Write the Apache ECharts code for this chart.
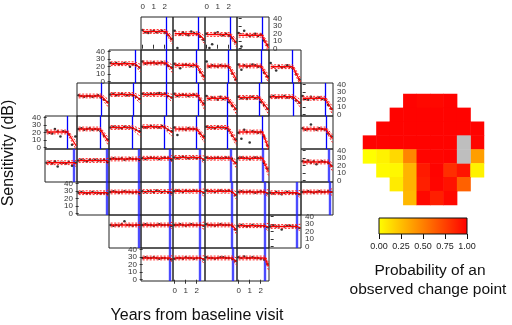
<!DOCTYPE html>
<html lang="en">
<head>
<meta charset="UTF-8">
<title>Change point</title>
<script src="https://cdn.jsdelivr.net/npm/echarts@6.0.0/dist/echarts.min.js"></script>
<style>
    html, body { margin: 0; padding: 0; background: #fff; }
    #chart { width: 512px; height: 325px; }
</style>
</head>
<body>
<div id="chart"></div>
<script type="text/javascript">
// visit times in years from baseline
var visits = [0, 0.25, 0.5, 0.75, 1.0, 1.25, 1.5, 1.75, 2.0, 2.3, 2.6];

// panel positions in the field (row, column)
var rowOf = [0,0,0,0, 1,1,1,1,1,1, 2,2,2,2,2,2,2,2, 3,3,3,3,3,3,3,3,
             4,4,4,4,4,4,4,4, 5,5,5,5,5,5,5,5, 6,6,6,6,6,6, 7,7,7,7];
var colOf = [3,4,5,6, 2,3,4,5,6,7, 1,2,3,4,5,6,7,8, 0,1,2,3,4,5,6,8,
             0,1,2,3,4,5,6,8, 1,2,3,4,5,6,7,8, 2,3,4,5,6,7, 3,4,5,6];

// fitted level before change, change point (years), fitted value at the end
var base = [23,20,19,18, 24,25,22,21,21,20, 25,27,27,26,22,23,24,22, 21,25,27,28,25,27,21,25,
            24,27,29,30,31,30,30,25, 28,29,29.5,30,30,29,28,29, 29,29,29,29,28,27, 29,29,29,29];
var changePt = [2.12,2.15,2.12,2.12, 2.2,2.12,2.0,2.0,2.03,2.0, 2.05,2.06,2.1,2.1,1.9,1.85,2.06,2.03,
                1.9,1.94,1.97,1.94,2.0,1.9,2.14,2.1, 2.5,2.55,2.52,2.49,2.3,2.2,2.14,2.33,
                2.55,2.52,2.49,2.3,2.27,2.4,2.37,2.48, 2.52,2.49,2.3,2.3,2.34,2.4, 2.49,2.3,2.33,2.4];
var endVal = [11,12,7,1, 18,17,5,3,4,0, 15,20,22,12,6,6,15,6, 2,8,20,20,12,8,0,12,
              22,25,28,29,28,22,12,18, 27,28,28,28,24,27,26,29, 29,28,28,22,26,25, 27,27,24,18];
var endTime = 2.7;
var ciHalf = [2.5, 5];

// observed sensitivities (dB) at each visit, one row per panel
var sens = [
    [25,22,21,23,24,22,23,24,21,18,13],
    [24,1,19,22,20,18,23,21,20,16,12],
    [20,1,6,21,22,19,18,20,17,14,9],
    [21,3,24,19,17,18,20,17,19,11,5],
    [25,24,25,23,24,25,24,20,23,22,19],
    [27,24,25,25,26,24,25,26,24,21,19],
    [24,22,18,22,23,22,21,22,20,13,8],
    [27,20,22,21,20,22,21,21,19,11,3],
    [23,16,22,20,21,23,22,20,20,12,7],
    [25,20,15,21,19,20,22,20,18,10,3],
    [26,25,24,25,25,24,25,26,23,20,17],
    [27,28,26,27,28,27,26,27,26,24,21],
    [28,27,27,28,27,28,29,27,28,25,23],
    [28,25,26,27,26,25,26,27,25,20,15],
    [25,21,23,22,20,24,21,22,17,12,8],
    [24,22,23,21,23,24,22,23,17,13,8],
    [24,25,23,24,24,25,23,24,22,19,16],
    [25,21,20,24,21,22,23,21,20,13,8],
    [23,20,19,25,22,15,22,21,18,4,15],
    [25,26,24,25,26,24,25,24,22,16,11],
    [27,28,27,27,26,28,27,27,26,24,22],
    [28,27,28,29,28,28,27,29,27,24,22],
    [27,17,25,25,24,26,25,25,24,19,15],
    [28,27,27,26,28,27,27,26,23,16,11],
    [20,12,24,21,7,22,21,20,21,15,3],
    [26,24,25,31,25,24,26,25,24,19,15],
    [24,25,23,26,19,24,24,23,25,20,24],
    [27,28,27,26,28,27,28,27,27,28,25],
    [29,30,29,29,30,28,29,30,29,29,28],
    [30,29,30,31,30,30,29,30,31,30,28],
    [31,30,31,32,31,30,31,31,30,31,28],
    [31,30,30,30,31,30,30,31,30,29,24],
    [30,31,30,30,29,30,31,30,30,24,16],
    [26,25,27,24,26,22,25,26,25,24,20],
    [28,29,28,27,28,29,28,28,27,28,27],
    [29,30,29,28,29,30,29,29,28,29,28],
    [30,29,30,30,29,31,30,29,30,29,28],
    [30,31,30,29,31,30,30,31,30,30,28],
    [31,30,30,29,30,31,30,30,31,29,25],
    [29,30,29,29,30,29,28,29,30,29,27],
    [28,27,29,28,26,28,29,28,28,27,26],
    [29,29,30,29,28,29,30,29,29,30,29],
    [29,28,29,28,30,34,29,29,28,29,29],
    [29,30,29,29,28,29,30,29,29,29,28],
    [29,29,30,29,28,29,30,29,29,29,28],
    [30,29,29,28,29,30,29,29,29,28,23],
    [28,29,28,27,28,29,28,28,28,28,26],
    [27,28,27,27,23,27,28,28,27,27,25],
    [29,30,29,29,30,29,28,29,29,28,27],
    [28,29,29,28,30,29,29,28,29,29,27],
    [30,29,29,28,29,30,30,29,29,28,25],
    [30,29,31,29,29,30,29,29,28,27,21]
];

// posterior probability of an observed change point, same panel order
var prob = [0.99,0.97,0.97,0.99, 0.99,0.99,0.99,0.99,0.99,0.99,
            0.99,0.99,0.99,0.99,0.99,0.99,0.99,0.99, 0.99,0.99,0.99,0.99,0.99,0.99,0.99,0.98,
            0.0,0.05,0.15,0.48,0.98,0.98,0.99,0.38, 0.02,0.03,0.3,0.9,0.99,0.82,0.92,0.05,
            0.08,0.3,0.88,0.98,0.93,0.62, 0.28,0.97,0.88,0.97];
var blindRow = [3, 4];
var blindCol = [7, 7];

var xTicks = [0, 1, 2];
var yTicks = [0, 10, 20, 30, 40];
// labels are split over two axes so that none gets dropped as "overlapping"
var yLabelsA = [0, 20, 40];
var yLabelsB = [10, 30];
var barTicks = [0, 0.25, 0.5, 0.75, 1];

// which panels carry the axis labels
var xTop = ['0-3', '0-5'];
var xBottom = ['7-4', '7-6'];
var yLeft = ['1-2', '3-0', '5-1', '7-3'];
var yRight = ['0-6', '2-8', '4-8', '6-7'];

var FONT = '"Liberation Sans", Arial, sans-serif';
var colX0 = 45, colW = 32, rowY0 = 17, rowH = 33;

var grids = [], xAxes = [], yAxes = [], extraY = [], series = [];

function yLabelAxis(gridIdx, pos, labels, ticks) {
    return {
        type: 'value', gridIndex: gridIdx, min: -1.7, max: 42.3,
        show: true, position: pos, offset: 0,
        axisLine: {show: false}, splitLine: {show: false},
        axisTick: {show: ticks, length: 3, customValues: yTicks, lineStyle: {color: '#333'}},
        axisLabel: {customValues: labels, fontSize: 8, margin: 4, color: '#333',
            fontFamily: FONT, showMinLabel: true, showMaxLabel: true}
    };
}

for (var i = 0; i < rowOf.length; i++) {
    var r = rowOf[i], c = colOf[i], key = r + '-' + c;
    grids.push({
        left: colX0 + c * colW, top: rowY0 + r * rowH, width: colW, height: rowH,
        show: true, borderColor: '#222', borderWidth: 1, backgroundColor: 'transparent'
    });
    var xPos = xTop.indexOf(key) >= 0 ? 'top' : (xBottom.indexOf(key) >= 0 ? 'bottom' : null);
    xAxes.push({
        type: 'value', gridIndex: i, min: -0.15, max: 2.75,
        show: !!xPos, position: xPos || 'bottom',
        axisLine: {show: false}, splitLine: {show: false},
        axisTick: {show: true, length: 4, customValues: xTicks, lineStyle: {color: '#333'}},
        axisLabel: {customValues: xTicks, fontSize: 8, margin: 6, color: '#333', fontFamily: FONT,
            showMinLabel: true, showMaxLabel: true}
    });
    var yPos = yLeft.indexOf(key) >= 0 ? 'left' : (yRight.indexOf(key) >= 0 ? 'right' : null);
    if (yPos) {
        yAxes.push(yLabelAxis(i, yPos, yLabelsA, true));
        extraY.push(yLabelAxis(i, yPos, yLabelsB, false));
    } else {
        yAxes.push({type: 'value', gridIndex: i, min: -1.7, max: 42.3, show: false});
    }

    var b = base[i], cpt = changePt[i], e = endVal[i];
    var lower = r >= 4;
    series.push({
        type: 'line', xAxisIndex: i, yAxisIndex: i, symbol: 'none', silent: true,
        data: [[0, b + ciHalf[0]], [cpt, b + ciHalf[0]], [endTime, e + ciHalf[1]]],
        lineStyle: {color: '#ff2020', width: 1, type: [2, 1.5]}
    });
    series.push({
        type: 'line', xAxisIndex: i, yAxisIndex: i, symbol: 'none', silent: true,
        data: [[0, b - ciHalf[0]], [cpt, b - ciHalf[0]], [endTime, e - ciHalf[1]]],
        lineStyle: {color: '#ff2020', width: 1, type: [2, 1.5]}
    });
    series.push({
        type: 'line', xAxisIndex: i, yAxisIndex: i, symbol: 'none', silent: true,
        data: [[0, b], [cpt, b], [endTime, e]],
        lineStyle: {color: '#ff0000', width: 1.3},
        markLine: {
            silent: true, symbol: 'none', label: {show: false}, z: 1,
            lineStyle: {color: lower ? 'rgba(30,30,255,0.8)' : '#0000ff', width: lower ? 2.4 : 1.3, type: 'solid'},
            data: [{xAxis: cpt}]
        }
    });
    series.push({
        type: 'scatter', xAxisIndex: i, yAxisIndex: i, silent: true,
        symbolSize: 2.6, itemStyle: {color: '#000'},
        data: visits.map(function (t, k) { return [t, sens[i][k]]; })
    });
}

// heat map of probabilities
var hIdx = grids.length;
grids.push({left: 363, top: 94, width: 121, height: 111, show: false});
xAxes.push({type: 'category', gridIndex: hIdx, data: ['0','1','2','3','4','5','6','7','8'], show: false});
yAxes.push({type: 'category', gridIndex: hIdx, data: ['0','1','2','3','4','5','6','7'], inverse: true, show: false});
var heatData = prob.map(function (p, k) { return [colOf[k], rowOf[k], p]; });
var heatSeriesIndex = series.length;
series.push({
    type: 'heatmap', xAxisIndex: hIdx, yAxisIndex: hIdx, silent: true,
    data: heatData, itemStyle: {borderWidth: 0}
});
series.push({
    type: 'heatmap', xAxisIndex: hIdx, yAxisIndex: hIdx, silent: true,
    data: blindRow.map(function (rr, k) { return [blindCol[k], rr, 0]; }),
    itemStyle: {color: '#bebebe'}
});

// colour bar
var bIdx = grids.length;
grids.push({
    left: 379, top: 218, width: 88, height: 16, show: true, borderColor: '#111', borderWidth: 1,
    backgroundColor: {
        type: 'linear', x: 0, y: 0, x2: 1, y2: 0,
        colorStops: [{offset: 0, color: '#ffff00'}, {offset: 0.5, color: '#ff8000'}, {offset: 1, color: '#ff0000'}]
    }
});
xAxes.push({
    type: 'value', gridIndex: bIdx, min: 0, max: 1, position: 'bottom',
    axisLine: {show: false}, splitLine: {show: false},
    axisTick: {show: true, length: 5, customValues: barTicks, lineStyle: {color: '#111'}},
    axisLabel: {customValues: barTicks, fontSize: 9, margin: 8, color: '#222', fontFamily: FONT,
        showMinLabel: true, showMaxLabel: true,
        formatter: function (v) { return v.toFixed(2); }}
});
yAxes.push({type: 'value', gridIndex: bIdx, min: 0, max: 1, show: false});
yAxes = yAxes.concat(extraY);

var titleStyle = function (txt, size) {
    return {text: txt, font: size + 'px ' + FONT, fill: '#111', textAlign: 'center', textVerticalAlign: 'middle'};
};

var option = {
    animation: false,
    backgroundColor: '#fff',
    grid: grids,
    xAxis: xAxes,
    yAxis: yAxes,
    visualMap: {
        show: false, seriesIndex: heatSeriesIndex, min: 0, max: 1, dimension: 2,
        inRange: {color: ['#ffff00', '#ff8000', '#ff0000']}
    },
    series: series,
    graphic: [
        {type: 'text', x: 9, y: 153, rotation: Math.PI / 2, style: titleStyle('Sensitivity (dB)', 16)},
        {type: 'text', x: 197, y: 316, style: titleStyle('Years from baseline visit', 16)},
        {type: 'text', x: 430, y: 271, style: titleStyle('Probability of an', 15.5)},
        {type: 'text', x: 428, y: 290, style: titleStyle('observed change point', 15.5)}
    ]
};

var chart = echarts.init(document.getElementById('chart'));
chart.setOption(option);
</script>
</body>
</html>
